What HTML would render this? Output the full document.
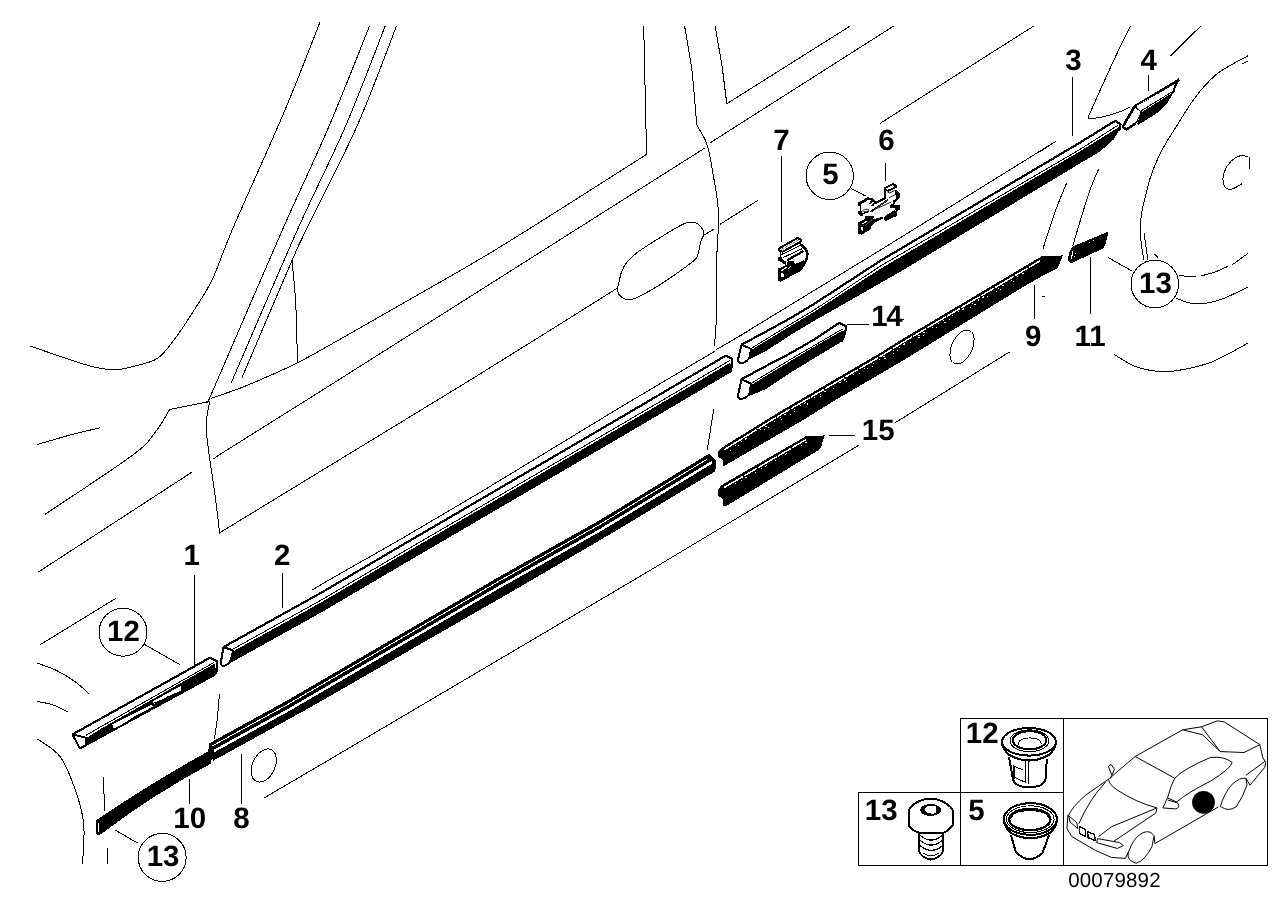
<!DOCTYPE html>
<html><head><meta charset="utf-8"><title>Trim strips diagram</title>
<style>
html,body{margin:0;padding:0;background:#fff;}
svg{display:block;will-change:transform;}
text{font-family:"Liberation Sans",sans-serif;fill:#000;text-rendering:geometricPrecision;}
.b{font-weight:bold;font-size:29.5px;}
</style></head><body>
<svg width="1288" height="910" viewBox="0 0 1288 910">
<rect width="1288" height="910" fill="#fff"/>
<g shape-rendering="crispEdges" stroke-linecap="butt">
<path d="M320.0,22.0 C314.2,36.7 299.5,75.7 285.0,110.0 C270.5,144.3 245.0,200.0 233.0,228.0 C221.0,256.0 219.2,264.7 213.0,278.0 C206.8,291.3 201.8,298.0 195.5,308.0 C189.2,318.0 181.7,329.7 175.4,338.0 C169.2,346.3 164.7,353.3 158.0,358.0 C151.3,362.7 142.2,364.1 135.0,366.0 C127.8,367.9 122.5,369.6 115.0,369.6 C107.5,369.6 104.2,369.9 90.0,366.0 C75.8,362.1 40.0,349.3 30.0,346.0" fill="none" stroke="#000" stroke-width="1" />
<path d="M369.5,26.0 C362.8,42.7 343.4,92.5 329.0,126.3 C314.6,160.1 302.0,185.4 282.8,229.0 C263.6,272.6 226.1,360.2 214.0,388.0 C201.9,415.8 211.1,394.7 210.5,396.0" fill="none" stroke="#000" stroke-width="1" />
<path d="M385.2,26.0 C378.6,42.7 360.1,92.5 345.5,126.3 C330.9,160.1 316.9,186.2 297.8,229.0 C278.7,271.9 242.1,357.7 231.0,383.4" fill="none" stroke="#000" stroke-width="1" />
<path d="M396.5,26.0 C389.9,42.7 371.9,92.5 356.9,126.3 C341.9,160.1 317.4,206.6 306.6,229.0 C295.8,251.4 302.8,235.8 292.0,260.6 C281.2,285.4 250.3,358.1 242.0,377.6" fill="none" stroke="#000" stroke-width="1" />
<path d="M292.0,260.6 C292.6,267.7 294.8,286.0 295.7,303.0 C296.6,320.0 297.2,352.8 297.5,362.8" fill="none" stroke="#000" stroke-width="1" />
<path d="M210.5,398.4 C215.5,396.7 229.7,392.2 240.6,388.0 C251.5,383.8 266.2,377.2 275.7,373.0 C285.2,368.8 289.8,366.7 297.5,362.8 C305.2,358.9 304.9,359.1 322.0,349.5 C339.1,339.9 370.3,322.1 400.0,305.0 C429.7,287.9 458.9,272.1 500.0,247.0 C541.1,221.9 622.2,169.8 646.6,154.4" fill="none" stroke="#000" stroke-width="1" />
<polyline points="646.6,154.4 643.7,25.9" fill="none" stroke="#000" stroke-width="1" />
<polyline points="208.0,401.7 169.7,409.5" fill="none" stroke="#000" stroke-width="1" />
<path d="M169.7,409.5 C167.3,413.2 161.7,424.3 155.4,432.0 C149.1,439.7 150.4,441.9 132.0,455.6 C113.6,469.3 59.5,504.6 45.0,514.4" fill="none" stroke="#000" stroke-width="1" />
<path d="M209.9,400.9 C209.3,404.8 206.4,415.4 206.2,424.0 C206.0,432.6 207.5,441.5 208.8,452.5 C210.2,463.5 212.5,476.3 214.3,489.9 C216.1,503.4 218.9,526.5 219.8,533.8" fill="none" stroke="#000" stroke-width="1" />
<polyline points="213.2,459.1 218.0,455.6 322.0,390.4 705.2,147.8" fill="none" stroke="#000" stroke-width="1" />
<polyline points="710.5,142.6 893.6,26.1" fill="none" stroke="#000" stroke-width="1" />
<polyline points="219.8,532.7 470.3,380.0 560.0,324.1 617.2,288.2" fill="none" stroke="#000" stroke-width="1" />
<polyline points="37.0,444.5 70.0,435.0 100.0,427.7" fill="none" stroke="#000" stroke-width="1" />
<polyline points="37.6,572.5 191.7,472.3" fill="none" stroke="#000" stroke-width="1" />
<polyline points="40.5,644.5 115.8,598.4" fill="none" stroke="#000" stroke-width="1" />
<path d="M37.0,663.1 C40.2,664.3 49.7,667.2 56.0,670.2 C62.3,673.2 69.2,677.5 74.7,681.4 C80.2,685.3 86.4,691.5 88.7,693.5" fill="none" stroke="#000" stroke-width="1" />
<path d="M37.0,701.4 C39.5,702.0 47.2,703.0 52.3,704.7 C57.4,706.4 65.0,710.5 67.6,711.7" fill="none" stroke="#000" stroke-width="1" />
<path d="M37.5,739.0 C41.2,741.9 53.8,748.2 60.0,756.5 C66.2,764.8 71.0,777.8 75.0,789.0 C79.0,800.2 82.5,811.5 83.7,824.0 C85.0,836.5 82.7,857.3 82.5,864.0" fill="none" stroke="#000" stroke-width="1" />
<polyline points="103.7,777.0 103.7,785.0 104.6,810.9" fill="none" stroke="#000" stroke-width="1" />
<polyline points="107.0,847.7 107.5,864.0" fill="none" stroke="#000" stroke-width="1" />
<path d="M219.5,694.0 C219.3,695.8 218.9,700.4 218.5,705.0 C218.1,709.6 217.7,715.8 217.0,721.5 C216.3,727.2 214.8,736.2 214.3,739.2" fill="none" stroke="#000" stroke-width="1" />
<ellipse cx="263.8" cy="765.5" rx="11.2" ry="17.5" transform="rotate(25.3 263.8 765.5)" fill="none" stroke="#000"/>
<polyline points="264.5,797.7 322.0,764.0 644.0,574.0 859.1,445.0" fill="none" stroke="#000" stroke-width="1" />
<polyline points="894.7,423.0 1009.3,352.1" fill="none" stroke="#000" stroke-width="1" />
<ellipse cx="962" cy="347" rx="10.4" ry="18.2" transform="rotate(24.9 962 347)" fill="none" stroke="#000"/>
<polyline points="312.0,590.0 329.7,579.6 400.0,539.6 480.0,492.5 620.0,407.5 714.5,351.4" fill="none" stroke="#000" stroke-width="1" />
<polyline points="716.0,349.8 750.0,330.0" fill="none" stroke="#000" stroke-width="1" />
<polyline points="725.4,344.6 780.0,311.3 880.0,250.3 1055.7,141.4" fill="none" stroke="#000" stroke-width="1" />
<polyline points="1040.0,151.7 1055.8,141.4" fill="none" stroke="#000" stroke-width="1" />
<path d="M684.6,25.9 C685.8,33.5 690.1,56.2 692.0,71.3 C693.9,86.3 695.1,107.2 696.0,116.2 C696.9,125.2 695.8,121.5 697.3,125.4 C698.8,129.3 703.2,135.3 705.2,139.9 C707.2,144.5 707.4,144.8 709.2,153.1 C711.0,161.4 714.3,181.0 715.8,190.0 C717.3,199.0 717.5,201.3 718.0,207.0 C718.5,212.7 718.7,215.6 718.5,224.2 C718.3,232.8 717.1,244.1 716.8,258.3 C716.5,272.5 717.2,295.0 716.8,309.6 C716.4,324.2 714.9,339.9 714.5,346.0" fill="none" stroke="#000" stroke-width="1" />
<polyline points="713.7,409.3 707.2,450.3" fill="none" stroke="#000" stroke-width="1" />
<polyline points="715.2,25.9 722.4,68.6 726.8,103.7" fill="none" stroke="#000" stroke-width="1" />
<polyline points="726.8,103.7 850.4,25.9" fill="none" stroke="#000" stroke-width="1" />
<polyline points="880.2,123.3 1033.7,26.1" fill="none" stroke="#000" stroke-width="1" />
<path d="M617.2,288.2 C617.5,287.2 618.3,284.9 619.0,282.2 C619.7,279.5 620.2,275.3 621.5,272.0 C622.8,268.7 623.8,266.0 626.6,262.6 C629.5,259.2 632.6,255.9 638.6,251.5 C644.6,247.1 655.1,240.7 662.5,236.1 C669.9,231.5 678.2,226.5 683.0,224.2 C687.8,221.9 688.9,222.1 691.5,222.1 C694.1,222.1 696.4,222.7 698.4,224.2 C700.4,225.7 702.6,229.2 703.5,231.0 C704.4,232.8 703.9,233.6 703.5,235.3 C703.1,237.0 701.9,237.8 700.9,241.2 C699.9,244.6 699.1,252.2 697.5,255.8 C695.9,259.4 697.3,258.1 691.5,262.6 C685.7,267.2 670.5,277.8 662.5,283.1 C654.5,288.4 648.5,291.6 643.7,294.2 C638.9,296.8 636.6,298.2 633.5,299.0 C630.4,299.8 627.3,299.8 624.9,299.0 C622.5,298.2 620.2,296.0 618.9,294.2 C617.6,292.4 617.5,289.2 617.2,288.2" fill="none" stroke="#000" stroke-width="1" />
<polyline points="703.5,235.3 713.7,229.3" fill="none" stroke="#000" stroke-width="1" />
<polyline points="719.8,224.5 758.2,200.2" fill="none" stroke="#000" stroke-width="1" />
<path d="M1130.5,26.0 C1127.7,31.7 1119.3,48.5 1113.9,60.0 C1108.5,71.5 1102.4,85.3 1098.0,95.0 C1093.6,104.7 1089.4,114.5 1087.7,118.4" fill="none" stroke="#000" stroke-width="1" />
<path d="M1087.7,118.4 C1089.8,118.2 1095.0,118.5 1100.0,117.5 C1105.0,116.5 1113.1,114.2 1118.0,112.5 C1122.9,110.8 1127.6,108.2 1129.5,107.4" fill="none" stroke="#000" stroke-width="1" />
<polyline points="1200.8,26.0 1170.5,55.9" fill="none" stroke="#000" stroke-width="1" />
<path d="M1248.0,55.8 C1245.3,57.2 1237.4,61.3 1232.0,64.5 C1226.6,67.7 1221.7,69.6 1215.6,75.0 C1209.5,80.4 1202.1,88.3 1195.5,97.0 C1188.9,105.7 1180.9,119.3 1176.0,127.0 C1171.1,134.7 1169.0,137.9 1166.0,143.0 C1163.0,148.1 1160.9,151.8 1158.3,157.5 C1155.7,163.2 1152.6,170.6 1150.5,177.0 C1148.4,183.4 1147.0,189.8 1145.5,195.8 C1144.0,201.8 1142.6,207.6 1141.7,213.0 C1140.8,218.4 1140.4,222.8 1140.3,228.0 C1140.2,233.2 1140.7,238.7 1141.3,244.0 C1141.9,249.3 1143.5,257.1 1144.0,259.7" fill="none" stroke="#000" stroke-width="1" />
<polyline points="1242.0,64.0 1248.0,61.2" fill="none" stroke="#000" stroke-width="1" />
<polyline points="1144.0,232.8 1147.8,259.7" fill="none" stroke="#000" stroke-width="1" />
<polyline points="1154.6,254.0 1157.8,257.4" fill="none" stroke="#000" stroke-width="1" />
<path d="M1178.6,275.0 C1180.0,275.2 1184.1,276.2 1187.0,276.5 C1189.9,276.8 1194.5,276.7 1196.0,276.7" fill="none" stroke="#000" stroke-width="1" />
<path d="M1200.8,276.0 C1203.2,275.3 1210.5,273.6 1215.0,272.0 C1219.5,270.4 1225.6,267.4 1227.7,266.5" fill="none" stroke="#000" stroke-width="1" />
<polyline points="1232.5,264.6 1247.9,253.4" fill="none" stroke="#000" stroke-width="1" />
<path d="M1175.7,297.9 C1178.1,298.8 1184.7,302.1 1190.0,303.0 C1195.3,303.9 1201.7,303.8 1207.5,303.0 C1213.3,302.2 1218.0,300.7 1224.8,298.0 C1231.5,295.3 1244.1,288.8 1248.0,287.0" fill="none" stroke="#000" stroke-width="1" />
<path d="M1248.0,156.7 C1246.7,156.5 1242.9,155.0 1240.0,155.8 C1237.1,156.6 1233.3,158.7 1230.6,161.6 C1227.9,164.5 1225.0,169.2 1223.9,173.0 C1222.8,176.8 1222.8,181.9 1223.9,184.7 C1225.0,187.4 1227.6,189.7 1230.6,189.5 C1233.6,189.3 1240.1,184.7 1242.0,183.7" fill="none" stroke="#000" stroke-width="1" />
<polyline points="1249.0,156.7 1249.0,169.4" fill="none" stroke="#000" stroke-width="1" />
<path d="M1098.7,168.9 C1097.2,172.4 1093.1,181.2 1090.0,190.0 C1086.9,198.8 1082.9,212.2 1080.0,221.6 C1077.1,231.0 1073.9,242.2 1072.7,246.3" fill="none" stroke="#000" stroke-width="1" />
<path d="M1066.6,183.0 C1064.7,187.8 1059.0,201.0 1055.0,212.0 C1051.0,223.0 1044.9,242.8 1042.9,249.0" fill="none" stroke="#000" stroke-width="1" />
<path d="M1113.8,354.2 C1117.3,356.2 1127.5,363.4 1134.6,366.2 C1141.7,369.0 1149.3,370.4 1156.2,371.2 C1163.1,372.0 1167.8,372.0 1176.2,370.8 C1184.7,369.6 1198.2,366.6 1206.9,363.8 C1215.6,361.0 1221.7,357.2 1228.5,353.8 C1235.3,350.4 1244.5,344.9 1247.7,343.1" fill="none" stroke="#000" stroke-width="1" />
<polyline points="900.0,319.5 904.0,319.5" fill="none" stroke="#000" stroke-width="1" />
<polyline points="1076.5,331.5 1080.0,331.5" fill="none" stroke="#000" stroke-width="1" />
<polyline points="1042.0,296.0 1045.0,296.0" fill="none" stroke="#000" stroke-width="1" />
</g>
<g shape-rendering="crispEdges" stroke-linejoin="round">
<polygon points="233.5,651.1 322.0,601.9 400.0,556.0 620.0,427.5 726.0,365.1 729.9,362.8 731.5,366.0 730.4,372.6 726.0,375.2 620.0,437.6 400.0,566.1 322.0,612.0 224.7,666.1" fill="#000" stroke="none" stroke-width="1" />
<polyline points="233.0,649.1 322.0,599.6 400.0,553.7 620.0,425.2 726.0,362.8 729.9,360.5" fill="none" stroke="#000" stroke-width="1" />
<polyline points="223.4,647.1 322.0,592.3 400.0,546.4 620.0,417.9 726.0,355.5" fill="none" stroke="#000" stroke-width="2.2" />
<polyline points="726.0,355.5 731.8,358.6 731.5,367.4 730.2,373.0" fill="none" stroke="#000" stroke-width="2.2" />
<path d="M223.4,647.1 L220.6,664 Q222,666.5 224.7,665.8 Q230,663.5 231.2,659 L233,650.4 Z" fill="#fff" stroke="#000" stroke-width="2" />
<polygon points="751.8,349.6 790.5,326.0 814.6,311.5 880.0,269.0 1080.0,151.3 1118.5,127.3 1119.2,130.0 1113.9,139.2 1100.0,151.5 1080.0,163.4 903.3,270.0 814.6,320.6 790.5,335.1 766.3,350.8 743.3,362.3" fill="#000" stroke="none" stroke-width="1" />
<polyline points="751.2,348.4 790.5,324.2 814.6,309.7 880.0,266.3 1080.0,149.4 1117.9,125.3" fill="none" stroke="#000" stroke-width="1" />
<polyline points="741.5,344.7 766.3,331.4 790.5,318.1 814.6,303.6 880.0,261.0 1080.0,142.6 1115.2,120.8" fill="none" stroke="#000" stroke-width="2.2" />
<polyline points="1115.2,120.8 1120.6,124.4 1119.2,130.5" fill="none" stroke="#000" stroke-width="2.2" />
<path d="M741.5,344.7 L737.8,360.6 Q739.5,363.8 741.9,363.2 Q748,361.5 749.5,357 L751.2,349 Z" fill="#fff" stroke="#000" stroke-width="2" />
<polygon points="751.8,384.6 790.5,361.1 814.6,346.6 843.1,330.2 845.2,332.5 840.6,342.3 814.6,358.0 790.5,372.6 766.3,388.9 743.3,398.5" fill="#000" stroke="none" stroke-width="1" />
<polyline points="751.2,383.4 790.5,359.3 814.6,345.3 842.5,329.0" fill="none" stroke="#000" stroke-width="1" />
<polyline points="741.5,379.2 766.3,365.9 790.5,353.2 814.6,339.3 839.4,322.7" fill="none" stroke="#000" stroke-width="2.2" />
<polyline points="839.4,322.7 846.4,326.5 845.2,332.5 841.8,341.9" fill="none" stroke="#000" stroke-width="2.2" />
<path d="M741.5,379.2 L737.8,396.5 Q739.5,399.6 741.9,399 Q748,397.3 749.5,393 L751.2,383.8 Z" fill="#fff" stroke="#000" stroke-width="2" />
<polygon points="86.4,737.9 100.0,729.3 214.4,663.8 216.5,671.0 214.4,675.0 79.8,748.5" fill="#000" stroke="none" stroke-width="1" />
<polygon points="112.0,724.3 131.1,715.0 150.9,704.9 153.2,706.5 134.2,716.6 117.9,727.5 113.6,727.8" fill="#fff" stroke="none" stroke-width="1" />
<polygon points="152.8,701.4 180.7,685.9 181.1,690.2 177.6,692.1 166.8,696.8 154.3,704.2" fill="#fff" stroke="none" stroke-width="1" />
<polyline points="154.0,703.0 169.5,697.3" fill="none" stroke="#000" stroke-width="1" />
<polyline points="79.8,748.5 214.4,675.0" fill="none" stroke="#000" stroke-width="2" />
<polyline points="85.7,735.5 100.0,727.2 213.8,662.6" fill="none" stroke="#000" stroke-width="1" />
<polyline points="72.5,734.4 209.8,657.8" fill="none" stroke="#000" stroke-width="2.2" />
<polyline points="209.8,657.8 216.8,661.0 216.8,671.0 214.4,675.0" fill="none" stroke="#000" stroke-width="2.2" />
<path d="M72.5,734.4 L79.8,748.5 L85.9,745.2 L85.7,737.7 Z" fill="#fff" stroke="#000" stroke-width="2" />
<polygon points="209.1,743.4 288.0,700.0 500.0,576.3 600.0,520.0 708.9,453.8 716.6,460.8 715.2,471.3 600.0,540.2 514.8,589.9 310.0,707.5 213.3,760.7 208.2,751.8" fill="#000" stroke="none" stroke-width="1" />
<polyline points="212.0,746.1 288.0,704.3 500.0,580.6 600.0,524.3 707.0,459.3" fill="none" stroke="#fff" stroke-width="1"/>
<polyline points="214.0,751.0 288.0,710.3 500.0,586.6 600.0,530.3 708.9,464.1 712.0,462.2" fill="none" stroke="#fff" stroke-width="2.5"/>
<path d="M96,821.3 L98.7,819.1 Q152,783 208,752.1 L211.4,754.3 L210.8,763.1 Q153,794 100.4,834 L96.5,834 Z" fill="#000" stroke="#000" stroke-width="1" />
<rect x="97.6" y="823" width="1.6" height="8.5" fill="#fff"/>
<polygon points="718.1,451.9 722.0,447.5 780.0,411.5 880.0,353.1 900.0,340.5 1041.4,256.4 1062.9,255.4 1057.9,267.9 1042.9,275.7 1022.9,287.1 905.0,359.3 880.0,374.0 834.6,400.5 804.8,419.0 723.5,466.4 723.1,460.1 718.1,456.8" fill="#000" stroke="none" stroke-width="1" />
<polyline points="724.0,449.9 780.0,415.1 880.0,356.7 900.0,344.1 1040.0,260.8" fill="none" stroke="#fff" stroke-width="1.5" stroke-dasharray="22 1 15 1.5"/>
<polyline points="735.0,445.6 780.0,417.7 880.0,359.3 900.0,346.7 1030.0,269.4" fill="none" stroke="#fff" stroke-width="1" stroke-dasharray="1 6 1 4 2 9"/>
<polyline points="730.0,451.1 780.0,420.1 880.0,361.7 900.0,349.1 1020.0,277.7" fill="none" stroke="#fff" stroke-width="1" stroke-dasharray="1 9 1 4 1 14"/>
<polygon points="718.1,489.2 722.0,484.8 805.5,436.5 824.7,435.4 820.9,447.5 819.2,449.7 726.9,505.7 723.1,505.7 723.1,499.1 718.1,495.8" fill="#000" stroke="none" stroke-width="1" />
<polyline points="724.0,487.6 806.0,439.6" fill="none" stroke="#fff" stroke-width="1.5" stroke-dasharray="22 1 15 1.5"/>
<polyline points="735.0,484.0 812.0,439.0" fill="none" stroke="#fff" stroke-width="1" stroke-dasharray="1 6 1 4 2 9"/>
<polygon points="1068.0,257.5 1070.1,250.2 1072.5,246.6 1107.0,232.1 1108.2,232.7 1105.8,243.0 1103.4,248.4 1072.5,262.6 1070.1,262.6 1068.0,260.5" fill="#000" stroke="none" stroke-width="1" />
<line x1="1073" y1="251" x2="1071.2" y2="258.8" stroke="#fff" stroke-width="1.2"/>
<rect x="1075" y="252.5" width="1" height="1" fill="#fff"/><rect x="1074" y="255.5" width="1" height="1" fill="#fff"/><rect x="1089" y="242" width="1" height="1" fill="#fff"/><rect x="1093" y="240" width="1" height="1" fill="#fff"/>
<polygon points="1141.5,112.3 1173.1,92.3 1173.1,93.1 1166.9,103.8 1159.2,111.5 1148.5,118.5 1138.5,124.6 1137.0,124.0 1139.5,117.0" fill="#000" stroke="none" stroke-width="1" />
<polyline points="1141.2,110.8 1173.8,90.8" fill="none" stroke="#000" stroke-width="1" />
<polyline points="1134.6,106.5 1179.2,79.6" fill="none" stroke="#000" stroke-width="2.6" />
<polyline points="1179.2,79.6 1175.4,85.4 1173.1,93.1" fill="none" stroke="#000" stroke-width="2" />
<polyline points="1137.5,105.6 1157.5,93.6" fill="none" stroke="#fff" stroke-width="1" stroke-dasharray="1 1.2"/>
<polygon points="1134.6,106.5 1141.2,111.9 1139.2,116.9 1136.2,123.1 1126.5,129.6 1122.7,126.9" fill="#fff" stroke="none" stroke-width="1" />
<polyline points="1134.6,106.5 1141.2,111.9 1139.2,116.9 1136.2,123.1" fill="none" stroke="#000" stroke-width="1" />
<polyline points="1136.2,123.1 1126.5,129.6 1122.7,126.9 1134.6,106.5" fill="none" stroke="#000" stroke-width="2.6" />
</g>
<g shape-rendering="crispEdges">
<polyline points="194.5,575.0 194.5,667.0" fill="none" stroke="#000" stroke-width="1" />
<polyline points="282.5,572.5 282.5,608.4" fill="none" stroke="#000" stroke-width="1" />
<polyline points="1072.5,77.2 1072.5,135.9" fill="none" stroke="#000" stroke-width="1" />
<polyline points="1148.5,75.2 1148.5,90.8" fill="none" stroke="#000" stroke-width="1" />
<polyline points="885.5,163.2 885.5,180.6" fill="none" stroke="#000" stroke-width="1" />
<polyline points="781.5,155.5 781.5,241.6" fill="none" stroke="#000" stroke-width="1" />
<polyline points="241.5,753.5 241.5,803.5" fill="none" stroke="#000" stroke-width="1" />
<polyline points="1034.5,285.0 1034.5,318.6" fill="none" stroke="#000" stroke-width="1" />
<polyline points="189.5,779.0 189.5,803.7" fill="none" stroke="#000" stroke-width="1" />
<polyline points="1090.5,257.4 1090.5,313.6" fill="none" stroke="#000" stroke-width="1" />
<polyline points="846.6,324.5 868.8,324.5" fill="none" stroke="#000" stroke-width="1" />
<polyline points="829.0,435.5 854.9,435.5" fill="none" stroke="#000" stroke-width="1" />
<polyline points="144.4,644.4 179.7,664.6" fill="none" stroke="#000" stroke-width="1" />
<polyline points="115.0,830.0 137.5,843.0" fill="none" stroke="#000" stroke-width="1" />
<polyline points="850.9,188.3 865.5,196.0" fill="none" stroke="#000" stroke-width="1" />
<polyline points="1131.5,270.7 1107.8,257.4" fill="none" stroke="#000" stroke-width="1" />
</g>
<circle cx="123.0" cy="632.2" r="24.0" fill="#fff" stroke="#000" stroke-width="1" shape-rendering="crispEdges"/>
<circle cx="162.2" cy="857.4" r="24.0" fill="#fff" stroke="#000" stroke-width="1" shape-rendering="crispEdges"/>
<circle cx="829.7" cy="175.8" r="23.7" fill="#fff" stroke="#000" stroke-width="1" shape-rendering="crispEdges"/>
<circle cx="1154.8" cy="284.0" r="23.8" fill="#fff" stroke="#000" stroke-width="1" shape-rendering="crispEdges"/>
<text class="b" x="191.75" y="565.00" text-anchor="middle" id="t_1_186">1</text>
<text class="b" x="282.25" y="565.00" text-anchor="middle" id="t_2_274">2</text>
<text class="b" x="1073.50" y="69.50" text-anchor="middle" id="t_3_1065">3</text>
<text class="b" x="1148.75" y="69.50" text-anchor="middle" id="t_4_1141">4</text>
<text class="b" x="830.50" y="183.60" text-anchor="middle" id="t_5_823">5</text>
<text class="b" x="886.50" y="149.50" text-anchor="middle" id="t_6_879">6</text>
<text class="b" x="781.50" y="149.50" text-anchor="middle" id="t_7_775">7</text>
<text class="b" x="241.50" y="827.50" text-anchor="middle" id="t_8_233">8</text>
<text class="b" x="1033.25" y="345.50" text-anchor="middle" id="t_9_1025">9</text>
<text class="b" x="189.75" y="828.00" text-anchor="middle" id="t_10_175">10</text>
<text class="b" x="1090.05" y="346.00" text-anchor="middle" id="t_11_1076">11</text>
<text class="b" x="123.50" y="640.50" text-anchor="middle" id="t_12_108">12</text>
<text class="b" x="163.05" y="865.80" text-anchor="middle" id="t_13_147">13</text>
<text class="b" x="1155.50" y="293.00" text-anchor="middle" id="t_13_1140">13</text>
<text class="b" x="886.25" y="326.00" text-anchor="middle" style="letter-spacing:-1.5px" id="t_14_873">14</text>
<text class="b" x="878.25" y="440.00" text-anchor="middle" id="t_15_863">15</text>
<text class="b" x="982.25" y="743.00" text-anchor="middle" id="t_12_967">12</text>
<text class="b" x="881.25" y="820.00" text-anchor="middle" id="t_13_866">13</text>
<text class="b" x="976.50" y="820.00" text-anchor="middle" id="t_5_969">5</text>
<text x="1068.2" y="887.2" style="font-size:20.5px;letter-spacing:0.17px" id="t_code">00079892</text>
<g shape-rendering="crispEdges" fill="none" stroke="#000" stroke-width="1">
<rect x="858.5" y="792.5" width="102" height="73"/><rect x="960.5" y="792.5" width="103" height="73"/><rect x="960.5" y="718.5" width="103" height="74"/><rect x="1063.5" y="718.5" width="204" height="147"/>
</g>
<g transform="translate(855,180) scale(0.065963)" stroke-linejoin="round" stroke="none" fill="#000" shape-rendering="crispEdges">
<polygon points="445,108 575,45 635,78 635,118 515,178 445,150"/>
<polygon points="472,125 565,80 603,96 520,140 480,148" fill="#fff"/>
<rect x="445" y="150" width="30" height="125"/>
<path d="M488,178 L528,196 L600,158" fill="none" stroke="#000" stroke-width="14"/>
<path d="M520,268 L612,222" fill="none" stroke="#000" stroke-width="14"/>
<polygon points="600,138 640,160 682,205 682,268 612,332 580,348 578,312 620,280 622,232 600,215"/>
<polygon points="600,330 612,346 562,396 535,386"/>
<polygon points="535,385 560,374 660,374 686,395 686,440 640,470 600,455 600,430 535,430"/>
<polygon points="440,560 470,545 490,520 600,460 636,480 636,545 470,620 440,600"/>
<path d="M305,352 L462,272" fill="none" stroke="#000" stroke-width="32"/>
<path d="M238,482 L500,300" fill="none" stroke="#000" stroke-width="26"/>
<path d="M300,440 L500,300" fill="none" stroke="#fff" stroke-width="9" stroke-dasharray="11 18"/>
<path d="M290,452 L548,334" fill="none" stroke="#000" stroke-width="13"/>
<polygon points="50,340 190,262 272,272 325,332 300,350 255,312 196,306 92,364 92,392 50,392"/>
<polygon points="212,358 250,300 278,306 240,368"/>
<polygon points="248,388 296,326 318,338 274,400"/>
<rect x="75" y="390" width="20" height="85"/>
<ellipse cx="165" cy="462" rx="50" ry="17" fill="none" stroke="#000" stroke-width="11" transform="rotate(-8 165 462)"/>
<polygon points="50,470 96,470 122,510 122,546 85,546 50,520"/>
<polygon points="122,500 200,470 215,482 130,520"/>
<polygon points="50,640 160,590 150,546 285,546 285,576 250,600 420,560 420,586 292,650 240,710 240,746 100,830 50,810"/>
<polygon points="95,665 170,620 180,635 105,680" fill="#fff"/>
<path d="M160,692 L270,586" fill="none" stroke="#fff" stroke-width="12" stroke-dasharray="11 11"/>
<polygon points="95,722 125,706 130,760 100,780" fill="#fff"/>
</g>
<g transform="translate(765,230) scale(0.0714286)" stroke-linejoin="round" stroke="#000" fill="none" shape-rendering="crispEdges">
<path d="M195,258 L455,112 L508,135 L508,160 L245,305 L195,285 Z" fill="#fff" stroke-width="28"/>
<path d="M230,272 L470,140" stroke="#000" stroke-width="10" stroke-dasharray="40 20"/>
<path d="M228,345 L500,215 M255,385 L520,262" stroke-width="14"/>
<path d="M215,295 V380" stroke-width="14"/>
<polygon points="185,380 232,380 252,420 300,440 300,490 260,472 230,452 185,432" fill="#000" stroke="none"/>
<path d="M490,198 Q600,262 592,350 Q585,440 512,528" stroke-width="36"/>
<path d="M312,422 L540,294" stroke-width="32"/>
<polygon points="185,540 300,490 320,440 410,440 415,482 540,420 560,470 515,520 515,565 220,725 185,705" fill="#000" stroke="none"/>
<polygon points="225,562 300,515 310,527 235,577" fill="#fff" stroke="none"/>
<path d="M288,582 L402,470" stroke="#fff" stroke-width="14" stroke-dasharray="12 12"/>
<polygon points="225,600 260,610 265,650 225,665" fill="#fff" stroke="none"/>
</g>
<g stroke="#000" fill="none" stroke-linejoin="round" stroke-linecap="round" shape-rendering="crispEdges">
<path d="M1009.2,758 L1012.8,778.5 Q1014,784 1020,786 Q1029.8,789.2 1040,785.5 Q1045,783 1045.6,778.5 L1046.8,759.6" fill="#fff" stroke-width="2"/>
<path d="M1025.3,762 V782.8 M1028.7,762 V783.2" stroke-width="1.2"/>
<path d="M1013.8,766.5 V778.5" stroke-width="2.4"/>
<path d="M1015,766.5 Q1019,769.5 1023,769 M1015,777 Q1020,781 1024.5,781.6" stroke-width="1"/>
<path d="M1002.1,742 Q1002.2,749.5 1010,755.5 Q1029,765.5 1048,755.5 Q1055.7,749.5 1055.9,742" fill="#fff" stroke-width="2.2"/>
<ellipse cx="1029" cy="741.8" rx="26.9" ry="13.8" fill="#fff" stroke-width="2"/>
<ellipse cx="1029.4" cy="740.8" rx="19.4" ry="10.9" stroke-width="1"/>
<ellipse cx="1029.6" cy="740.2" rx="16.8" ry="9.1" stroke-width="2"/>
<path d="M1018.3,744.3 Q1018.6,738 1029.8,737.9 Q1041,738 1041.3,743.5" stroke-width="1"/>
<path d="M919.4,832 L919.4,851.5 Q921,857.5 930.9,859.6 Q941,857.5 942.7,851.5 L942.7,832 Z" fill="#fff" stroke-width="2"/>
<path d="M920.5,835.5 Q931,844.5 941.5,836 M920.5,840.5 Q931,849.5 941.5,841 M920.5,846 Q931,854.5 941.5,846.5 M923,853 Q931,858.5 939,853" stroke-width="1.2"/>
<path d="M909.1,809.5 Q912,803 924.5,799.4 L936.8,799.4 Q949,803 952.6,810 L952.6,825.5 Q949,830.5 942.7,833 L919.8,833 Q912,830.5 909.1,826 Z" fill="#fff" stroke-width="2"/>
<ellipse cx="930.7" cy="810" rx="10.5" ry="5.9" fill="#000" stroke="none"/>
<polygon points="924.9,808.8 927.7,806.1 935.6,806.1 936.4,812 933.2,814 926.1,812.4" fill="#fff" stroke="none"/>
<path d="M1011.2,835.7 L1015.6,851.5 Q1020,857 1027,859 Q1033,859.6 1036,857.5 Q1041,855 1042.5,853 L1048.8,835.7" fill="#fff" stroke-width="2"/>
<path d="M1003.9,819.4 Q1004,827 1011,833 Q1030,843.5 1050,833 Q1056.6,827 1056.9,819.4" fill="#fff" stroke-width="2.2"/>
<ellipse cx="1030.4" cy="819" rx="26.5" ry="15.9" fill="#fff" stroke-width="2"/>
<ellipse cx="1030.3" cy="819.2" rx="23.8" ry="13.4" stroke-width="1"/>
<ellipse cx="1029.8" cy="819.5" rx="20.6" ry="10.7" stroke-width="2.4"/>
<path d="M1011.6,817.5 Q1013,811 1029.8,810.6 Q1047,811 1048.3,817.5" stroke-width="1"/>
</g>
<g transform="translate(1060,710) scale(0.197844)" stroke="#000" fill="none" stroke-width="5" stroke-linejoin="round" shape-rendering="crispEdges">
<path d="M245,350 L380,235 L620,100 L715,85 L795,55 L830,60 L1010,175 L1025,240 L1040,265 L1035,290 L960,380"/>
<path d="M715,85 L810,210 L930,215 L1010,175 M620,100 L720,125 L810,210"/>
<path d="M380,235 L580,345 M245,350 Q250,380 290,405 Q380,465 490,495"/>
<path d="M580,345 Q560,380 545,440 L520,495 L585,500 Q610,492 595,470 L545,455"/>
<path d="M580,345 Q620,300 760,240 Q830,232 870,265 Q865,295 760,360 Q640,420 590,465 L545,445"/>
<path d="M245,350 L130,430 Q60,490 40,540 M230,365 Q150,450 95,575"/>
<path d="M490,495 L260,590 L195,640 M490,495 L485,520 L270,665"/>
<path d="M40,530 L35,600 L60,640 L180,710 L260,745 L330,750 L345,720 L360,685"/>
<path d="M100,590 L130,605 L130,640 L100,625 Z M140,615 L175,630 L178,660 L142,645 Z" stroke-width="7"/>
<path d="M45,535 L85,570 L90,600 L50,565 Z M190,650 L300,670 L320,685 L290,700 L185,670 Z"/>
<path d="M360,685 Q380,640 420,620 Q455,605 475,635 L480,675 L800,490"/>
<path d="M345,720 Q335,760 385,775 Q430,760 465,690 L475,640"/>
<path d="M810,490 Q830,420 870,375 Q910,340 940,345 L960,380"/>
<path d="M815,490 Q850,515 890,490 Q925,440 945,380 L940,345 M940,330 L1035,260"/>
<path d="M245,285 L258,275 L275,300 L262,330 Z M262,330 L255,345"/>
</g>
<circle cx="1203.5" cy="802.3" r="11.4" fill="#000"/>
</svg>
</body></html>
